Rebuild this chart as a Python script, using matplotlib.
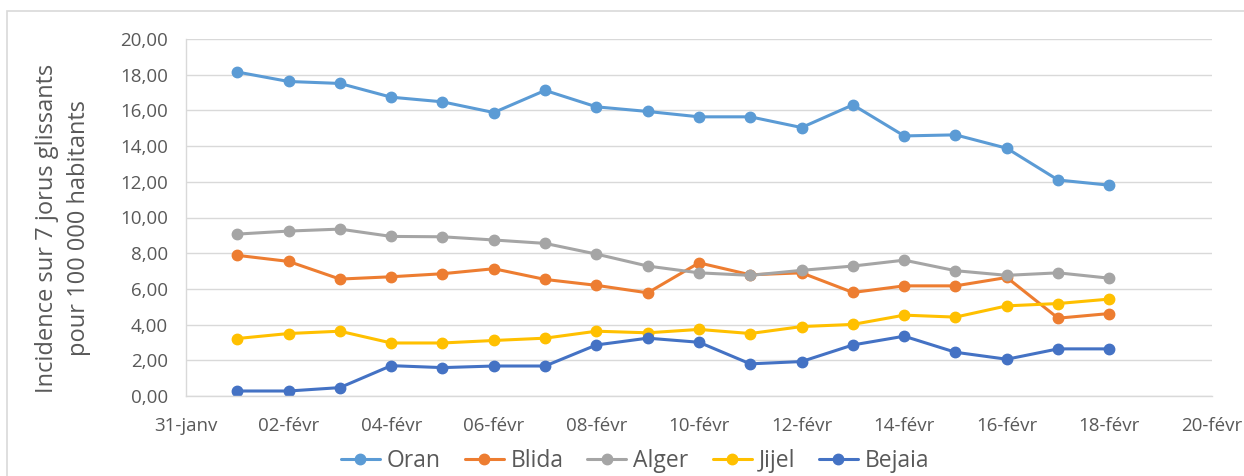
import datetime as dt
import matplotlib
matplotlib.use("Agg")
import matplotlib.pyplot as plt
from matplotlib.patches import Rectangle

# incidence sur 7 jours glissants, du 01 au 18 février
jours = [dt.date(2021, 2, d) for d in range(1, 19)]
oran = [18.15, 17.62, 17.51, 16.74, 16.48, 15.88, 17.12, 16.20, 15.94, 15.64,
        15.64, 15.04, 16.31, 14.57, 14.63, 13.88, 12.10, 11.81]
blida = [7.88, 7.54, 6.55, 6.68, 6.85, 7.13, 6.53, 6.20, 5.78, 7.46,
         6.79, 6.90, 5.80, 6.17, 6.17, 6.64, 4.36, 4.62]
alger = [9.07, 9.24, 9.35, 8.94, 8.92, 8.74, 8.55, 7.95, 7.28, 6.90,
         6.76, 7.04, 7.28, 7.61, 7.02, 6.76, 6.90, 6.60]
jijel = [3.22, 3.50, 3.63, 2.97, 2.97, 3.11, 3.24, 3.63, 3.54, 3.73,
         3.50, 3.89, 4.01, 4.53, 4.42, 5.05, 5.18, 5.43]
bejaia = [0.28, 0.28, 0.47, 1.70, 1.59, 1.68, 1.68, 2.86, 3.24, 3.01,
          1.80, 1.93, 2.86, 3.35, 2.45, 2.06, 2.64, 2.64]

series = [("Oran", oran, "#5B9BD5"), ("Blida", blida, "#ED7D31"),
          ("Alger", alger, "#A5A5A5"), ("Jijel", jijel, "#FFC000"),
          ("Bejaia", bejaia, "#4472C4")]

tick_dates = [dt.date(2021, 1, 31) + dt.timedelta(days=2 * i) for i in range(11)]
tick_labels = ["31-janv", "02-févr", "04-févr", "06-févr", "08-févr", "10-févr",
               "12-févr", "14-févr", "16-févr", "18-févr", "20-févr"]
y_ticks = [0, 2, 4, 6, 8, 10, 12, 14, 16, 18, 20]

txt = "#595959"
plt.rcParams["font.family"] = ["Open Sans", "DejaVu Sans"]

fig = plt.figure(figsize=(12.44, 4.76), dpi=100)
ax = fig.add_axes([186 / 1244, 1 - 396 / 476, (1212 - 186) / 1244, (396 - 39) / 476])

fig.patches.append(Rectangle((7 / 1244, -0.1), 1.1, 1 - 11 / 476 + 0.1,
                             transform=fig.transFigure, fill=False,
                             edgecolor="#D9D9D9", linewidth=1.2))

for name, vals, col in series:
    ax.plot(jours, vals, color=col, linewidth=2.2, marker="o", markersize=7.5,
            label=name, solid_capstyle="round")

ax.set_xlim(tick_dates[0], tick_dates[-1])
ax.set_ylim(0, 20)
ax.set_xticks(tick_dates)
ax.set_xticklabels(tick_labels)
ax.set_yticks(y_ticks)
ax.set_yticklabels([f"{v:.2f}".replace(".", ",") for v in y_ticks])
ax.tick_params(axis="both", length=0, labelsize=13.5, colors=txt)
ax.tick_params(axis="x", pad=15)
ax.tick_params(axis="y", pad=13)

ax.grid(axis="y", color="#D9D9D9", linewidth=1.0)
ax.set_axisbelow(True)
for s in ["top", "right"]:
    ax.spines[s].set_visible(False)
for s in ["left", "bottom"]:
    ax.spines[s].set_color("#D9D9D9")
    ax.spines[s].set_linewidth(1.0)

ax.set_ylabel("Incidence sur 7 jorus glissants\npour 100 000 habitants",
              fontsize=17, color=txt, linespacing=1.45)
ax.yaxis.set_label_coords(-95 / 1026, 0.47)

fig.legend(*ax.get_legend_handles_labels(), loc="center",
           bbox_to_anchor=(635 / 1244, 1 - 461 / 476), ncol=5, frameon=False,
           fontsize=16.5, labelcolor=txt, handlelength=1.7, handletextpad=0.3,
           columnspacing=1.05)

fig.savefig("out.png", dpi=100)
